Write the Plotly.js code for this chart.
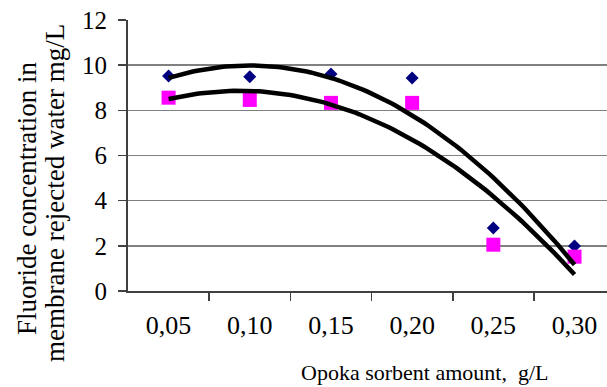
<!DOCTYPE html>
<html>
<head>
<meta charset="utf-8">
<script src="https://cdn.plot.ly/plotly-3.0.1.min.js"></script>
<style>html,body{margin:0;padding:0;background:#fff;}#chart{width:607px;height:387px;}</style>
</head>
<body>
<div id="chart"></div>
<script>
// Data
const categories = ["0,05", "0,10", "0,15", "0,20", "0,25", "0,30"];
const seriesA = [9.52, 9.49, 9.61, 9.43, 2.79, 1.99];   // navy diamonds
const seriesB = [8.56, 8.46, 8.33, 8.33, 2.05, 1.52];   // magenta squares
const yTicks = [0, 2, 4, 6, 8, 10, 12];
const yTitleLines = ["Fluoride concentration in", "membrane rejected water mg/L"];
const xTitle = "Opoka sorbent amount,&nbsp; g/L";

const xIdx = categories.map((_, i) => i);

// Least-squares quadratic fit (Excel-style polynomial trendline)
function polyFit2(xs, ys) {
  let n = xs.length, s = [0,0,0,0,0], t = [0,0,0];
  for (let i = 0; i < n; i++) {
    const x = xs[i], y = ys[i];
    let p = 1;
    for (let k = 0; k < 5; k++) { s[k] += p; if (k < 3) t[k] += p * y; p *= x; }
  }
  const M = [[s[0], s[1], s[2], t[0]], [s[1], s[2], s[3], t[1]], [s[2], s[3], s[4], t[2]]];
  for (let c = 0; c < 3; c++) {
    for (let r = c + 1; r < 3; r++) {
      const f = M[r][c] / M[c][c];
      for (let k = c; k < 4; k++) M[r][k] -= f * M[c][k];
    }
  }
  const a = [0,0,0];
  for (let r = 2; r >= 0; r--) {
    let v = M[r][3];
    for (let k = r + 1; k < 3; k++) v -= M[r][k] * a[k];
    a[r] = v / M[r][r];
  }
  return a;
}
function trend(ys) {
  const a = polyFit2(xIdx, ys);
  const xs = [], out = [];
  const x0 = xIdx[0], x1 = xIdx[xIdx.length - 1];
  for (let i = 0; i <= 100; i++) {
    const x = x0 + (x1 - x0) * i / 100;
    xs.push(x); out.push(a[0] + a[1] * x + a[2] * x * x);
  }
  return {x: xs, y: out};
}
const tA = trend(seriesA), tB = trend(seriesB);

const font = "Liberation Serif, Times New Roman, serif";

const traces = [
  {x: xIdx, y: seriesA, type: 'scatter', mode: 'markers',
   marker: {symbol: 'diamond', size: 10, color: '#000080'}, showlegend: false, hoverinfo: 'skip'},
  {x: xIdx, y: seriesB, type: 'scatter', mode: 'markers',
   marker: {symbol: 'square', size: 14, color: '#FF00FF'}, showlegend: false, hoverinfo: 'skip'},
  {x: tA.x, y: tA.y, type: 'scatter', mode: 'lines',
   line: {color: '#000000', width: 4.5}, showlegend: false, hoverinfo: 'skip'},
  {x: tB.x, y: tB.y, type: 'scatter', mode: 'lines',
   line: {color: '#000000', width: 4.5}, showlegend: false, hoverinfo: 'skip'}
];

const layout = {
  width: 607, height: 387,
  margin: {l: 128, r: 0, t: 20, b: 96, pad: 0},
  paper_bgcolor: '#ffffff', plot_bgcolor: '#ffffff',
  font: {family: font, color: '#000000'},
  showlegend: false,
  xaxis: {
    range: [-0.5, 5.4], tickmode: 'array', tickvals: xIdx, ticktext: categories,
    ticks: '', showgrid: false, zeroline: false,
    showline: true, linecolor: '#404040', linewidth: 2,
    tickfont: {family: font, size: 26, color: '#000000'},
    ticklabelstandoff: 10,
    minor: {tickmode: 'array', tickvals: [0.5, 1.5, 2.5, 3.5, 4.5], ticks: 'outside',
            ticklen: 8, tickwidth: 1.5, tickcolor: '#404040', showgrid: false}
  },
  yaxis: {
    range: [0, 12], tickmode: 'array', tickvals: yTicks,
    ticks: 'outside', ticklen: 8, tickwidth: 1.5, tickcolor: '#404040',
    showgrid: true, gridcolor: '#808080', gridwidth: 1.5, zeroline: false,
    showline: true, linecolor: '#404040', linewidth: 2,
    tickfont: {family: font, size: 25, color: '#000000'},
    ticklabelstandoff: 6
  },
  annotations: [
    {text: yTitleLines[0], textangle: -90,
     xref: 'paper', yref: 'paper', x: -0.2109, y: 0.343, xanchor: 'center', yanchor: 'middle',
     showarrow: false, font: {family: font, size: 27, color: '#000000'}},
    {text: yTitleLines[1], textangle: -90,
     xref: 'paper', yref: 'paper', x: -0.1524, y: 0.362, xanchor: 'center', yanchor: 'middle',
     showarrow: false, font: {family: font, size: 27, color: '#000000'}},
    {text: xTitle,
     xref: 'paper', yref: 'paper', x: 0.62, y: -0.299, xanchor: 'center', yanchor: 'middle',
     showarrow: false, font: {family: font, size: 22, color: '#000000'}}
  ]
};

Plotly.newPlot('chart', traces, layout, {staticPlot: true, displayModeBar: false});
</script>
</body>
</html>
